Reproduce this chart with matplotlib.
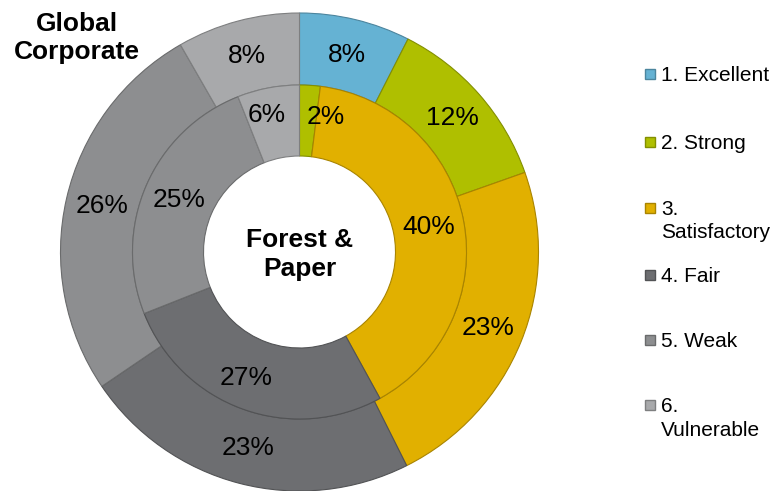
import numpy as np
import matplotlib.pyplot as plt
from matplotlib.patches import Rectangle
from matplotlib.colors import to_rgb

plt.rcParams["font.family"] = ["Liberation Sans", "DejaVu Sans"]

categories = ["1. Excellent", "2. Strong", "3.\nSatisfactory", "4. Fair", "5. Weak", "6.\nVulnerable"]
global_corporate = [7.5, 12.1, 23.0, 22.9, 26.2, 8.3]
forest_paper = [0, 2, 40, 27, 25, 6]
colors = ["#65B2D3", "#AFBF00", "#E1B000", "#6D6E71", "#8D8E90", "#A8A9AB"]

# small pixel nudges for crowded inner labels (dx, dy)
inner_nudge = {1: (18, -4), 3: (-9, 2), 5: (-8, -8)}


def darker(c, f=0.75):
    r, g, b = to_rgb(c)
    return (r * f, g * f, b * f)


W, H = 774, 491
fig = plt.figure(figsize=(W / 100, H / 100), dpi=100)
cx, cy, R = 299.5, 252, 239
ax = fig.add_axes([(cx - R) / W, (H - cy - R) / H, 2 * R / W, 2 * R / H])
ax.set_aspect("equal")
ax.axis("off")

r_mid = 167 / R
r_hole = 96 / R
fs = 19

outer, _ = ax.pie(global_corporate, colors=colors, radius=1, startangle=90,
                  counterclock=False, wedgeprops=dict(width=1 - r_mid, linewidth=0.8))
inner, _ = ax.pie(forest_paper, colors=colors, radius=r_mid, startangle=90,
                  counterclock=False, wedgeprops=dict(width=r_mid - r_hole, linewidth=0.8))
ax.set_xlim(-1, 1)
ax.set_ylim(-1, 1)

for wedges, vals, rlab, nudge in [(outer, global_corporate, (1 + r_mid) / 2, {}),
                                  (inner, forest_paper, (r_mid + r_hole) / 2, inner_nudge)]:
    for i, (w, v, c) in enumerate(zip(wedges, vals, colors)):
        w.set_edgecolor(darker(c))
        if v == 0:
            continue
        a = np.deg2rad((w.theta1 + w.theta2) / 2)
        dx, dy = nudge.get(i, (0, 0))
        ax.text(rlab * np.cos(a) + dx / R, rlab * np.sin(a) - dy / R, f"{v:.0f}%",
                ha="center", va="center", fontsize=fs, color="black")

ax.text(0, -0.01, "Forest &\nPaper", ha="center", va="center", fontsize=fs,
        fontweight="bold", linespacing=1.25)
fig.text(77 / W, 1 - 38 / H, "Global\nCorporate", ha="center", va="center",
         fontsize=fs, fontweight="bold", linespacing=1.25)

# legend
ys = [74, 142, 208, 275, 340, 405]
for lab, c, y in zip(categories, colors, ys):
    fig.patches.append(Rectangle((645 / W, 1 - (y + 5) / H), 10 / W, 10 / H,
                                 transform=fig.transFigure, facecolor=c,
                                 edgecolor=darker(c), linewidth=1))
    fig.text(661 / W, 1 - (y - 8) / H, lab, ha="left", va="top",
             fontsize=15, linespacing=1.3)

fig.savefig("out.png", dpi=100)
